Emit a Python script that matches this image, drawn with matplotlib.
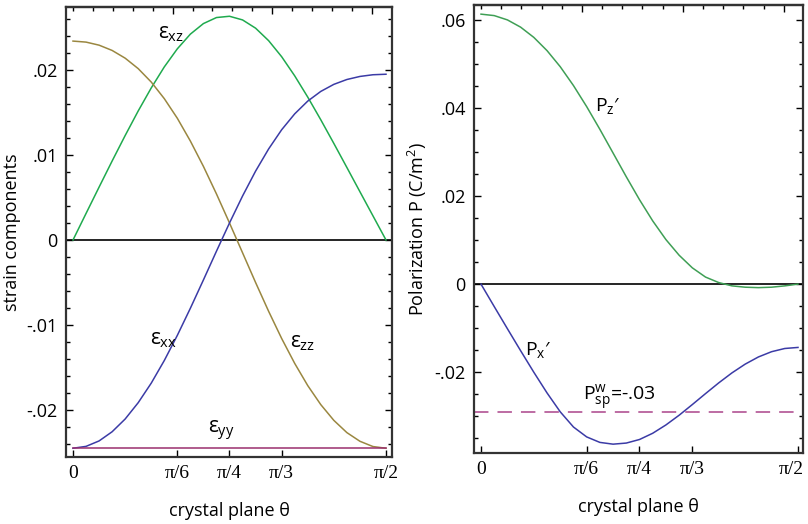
import numpy as np
import matplotlib
matplotlib.use("Agg")
import matplotlib.pyplot as plt
from matplotlib.ticker import FixedLocator, MultipleLocator
from matplotlib.transforms import ScaledTranslation

plt.rcParams['font.family'] = ['Open Sans', 'DejaVu Sans']
plt.rcParams['mathtext.fontset'] = 'custom'
plt.rcParams['mathtext.rm'] = 'Open Sans'
plt.rcParams['mathtext.it'] = 'Open Sans'
plt.rcParams['mathtext.sf'] = 'Open Sans'

# ---- data (theta = m*pi/48, m = 0..24) ----
theta = [m * np.pi / 48 for m in range(25)]

eps_xx = [-0.0245, -0.02428, -0.02364, -0.02256, -0.02106, -0.01914, -0.01684,
          -0.01418, -0.01122, -0.00803, -0.00470, -0.00132, 0.00200, 0.00517,
          0.00810, 0.01071, 0.01297, 0.01484, 0.01634, 0.01748, 0.01831, 0.01888,
          0.01924, 0.01944, 0.0195]
eps_zz = [0.0234, 0.02328, 0.02292, 0.02230, 0.02139, 0.02016, 0.01858, 0.01663,
          0.01432, 0.01164, 0.00866, 0.00542, 0.00200, -0.00150, -0.00500,
          -0.00839, -0.01159, -0.01452, -0.01713, -0.01937, -0.02122, -0.02266,
          -0.02368, -0.02430, -0.0245]
eps_xz = [0.0, 0.00312, 0.00622, 0.00929, 0.01229, 0.01518, 0.01789, 0.02036,
          0.02249, 0.02422, 0.02546, 0.02617, 0.02632, 0.02589, 0.02492, 0.02345,
          0.02156, 0.01931, 0.01681, 0.01414, 0.01136, 0.00853, 0.00568, 0.00284, 0.0]
eps_yy = [-0.0245] * 25

P_z = [0.0614, 0.06107, 0.06009, 0.05844, 0.05611, 0.05310, 0.04944, 0.04516,
       0.04037, 0.03520, 0.02981, 0.02441, 0.01920, 0.01438, 0.01013, 0.00657,
       0.00370, 0.00160, 0.00035, -0.00040, -0.00070, -0.00080, -0.00070,
       -0.00040, 0.0]
P_x = [0.0, -0.00510, -0.01015, -0.01515, -0.02005, -0.02475, -0.02905, -0.03250,
       -0.03475, -0.03600, -0.03640, -0.03615, -0.03534, -0.03392, -0.03203,
       -0.02982, -0.02739, -0.02490, -0.02246, -0.02019, -0.01820, -0.01657,
       -0.01537, -0.01464, -0.0144]
P_sp = -0.029

xtick_vals = [0, np.pi / 6, np.pi / 4, np.pi / 3, np.pi / 2]
xtick_labels = ['0', 'π/6', 'π/4', 'π/3', 'π/2']
left_yticks = [-0.02, -0.01, 0.0, 0.01, 0.02]
left_ylabels = ['-.02', '-.01', '0', '.01', '.02']
right_yticks = [-0.02, 0.0, 0.02, 0.04, 0.06]
right_ylabels = ['-.02', '0', '.02', '.04', '.06']

c_blue = '#3b3ba6'
c_olive = '#9a8740'
c_green = '#1faa4e'
c_green2 = '#3f9f55'
c_purple = '#9a2f6e'
c_dash = '#b8609c'

fig = plt.figure(figsize=(8.08, 5.24), dpi=100)
axL = fig.add_axes([66 / 808, 1 - 457 / 524, 326 / 808, 450 / 524])
axR = fig.add_axes([474 / 808, 1 - 453 / 524, 329 / 808, 448 / 524])


def style(ax, yt, yl, minor_step):
    ax.set_xticks(xtick_vals)
    ax.set_xticklabels(xtick_labels, family='Liberation Serif', fontsize=14)
    ax.set_yticks(yt)
    ax.set_yticklabels(yl, fontsize=13)
    ax.yaxis.set_minor_locator(MultipleLocator(minor_step))
    ax.tick_params(axis='both', which='major', direction='in', length=5, width=1,
                   right=True, top=False, pad=6)
    ax.tick_params(axis='y', which='minor', direction='in', length=3, width=1,
                   right=True)
    ax.tick_params(axis='x', which='minor', bottom=False)
    sec = ax.secondary_xaxis('top')
    sec.set_xticks([0.5, 1.0, 1.5])
    sec.xaxis.set_minor_locator(FixedLocator([i * 0.1 for i in range(16)]))
    sec.tick_params(which='major', direction='in', length=5, width=1)
    sec.tick_params(which='minor', direction='in', length=3, width=1)
    sec.set_xticklabels([])
    sec.spines['top'].set_linewidth(1.6)
    sec.spines['top'].set_color('#333333')
    for s in ax.spines.values():
        s.set_linewidth(1.6)
        s.set_color('#333333')
    ax.axhline(0, color='black', lw=1.2, zorder=1)


# ---- left panel ----
axL.plot(theta, eps_xz, color=c_green, lw=1.1, solid_joinstyle='round')
axL.plot(theta, eps_zz, color=c_olive, lw=1.1, solid_joinstyle='round')
axL.plot(theta, eps_xx, color=c_blue, lw=1.1, solid_joinstyle='round')
axL.plot(theta, eps_yy, color=c_purple, lw=1.1)
axL.set_xlim(-0.0351, 1.6009)
axL.set_ylim(-0.02553, 0.02741)
style(axL, left_yticks, left_ylabels, 0.002)
axL.set_xlabel('crystal plane θ', fontsize=13, labelpad=14)
axL.set_ylabel('strain components', fontsize=13, labelpad=4)

tk = dict(fontsize=15, va='center', ha='left')
axL.text(0.427, 0.02435, r'$\varepsilon_{\mathregular{xz}}$', **tk)
axL.text(0.386, -0.01176, r'$\varepsilon_{\mathregular{xx}}$', **tk)
axL.text(1.089, -0.0121, r'$\varepsilon_{\mathregular{zz}}$', **tk)
axL.text(0.678, -0.02247, r'$\varepsilon_{\mathregular{yy}}$', **tk)

# ---- right panel ----
axR.plot(theta, P_z, color=c_green2, lw=1.1, solid_joinstyle='round')
axR.plot(theta, P_x, color=c_blue, lw=1.1, solid_joinstyle='round')
axR.axhline(P_sp, color=c_dash, lw=1.3, dashes=(8, 5))
axR.set_xlim(-0.0347, 1.5956)
axR.set_ylim(-0.03841, 0.06348)
style(axR, right_yticks, right_ylabels, 0.005)
axR.set_xlabel('crystal plane θ', fontsize=13, labelpad=14)
axR.set_ylabel('Polarization P (C/m$^2$)', fontsize=13, labelpad=4)

last = axR.get_xticklabels()[-1]
last.set_transform(last.get_transform() + ScaledTranslation(-5 / 72, 0, fig.dpi_scale_trans))

axR.text(0.565, 0.0405, r"P$_{\mathregular{z}}$′", fontsize=14, va='center', ha='left')
axR.text(0.218, -0.0149, r"P$_{\mathregular{x}}$′", fontsize=14, va='center', ha='left')
axR.text(0.505, -0.0258, r"P$_{\mathregular{sp}}^{\mathregular{w}}$=-.03", fontsize=14,
         va='center', ha='left')

fig.savefig('out.png', dpi=100)
